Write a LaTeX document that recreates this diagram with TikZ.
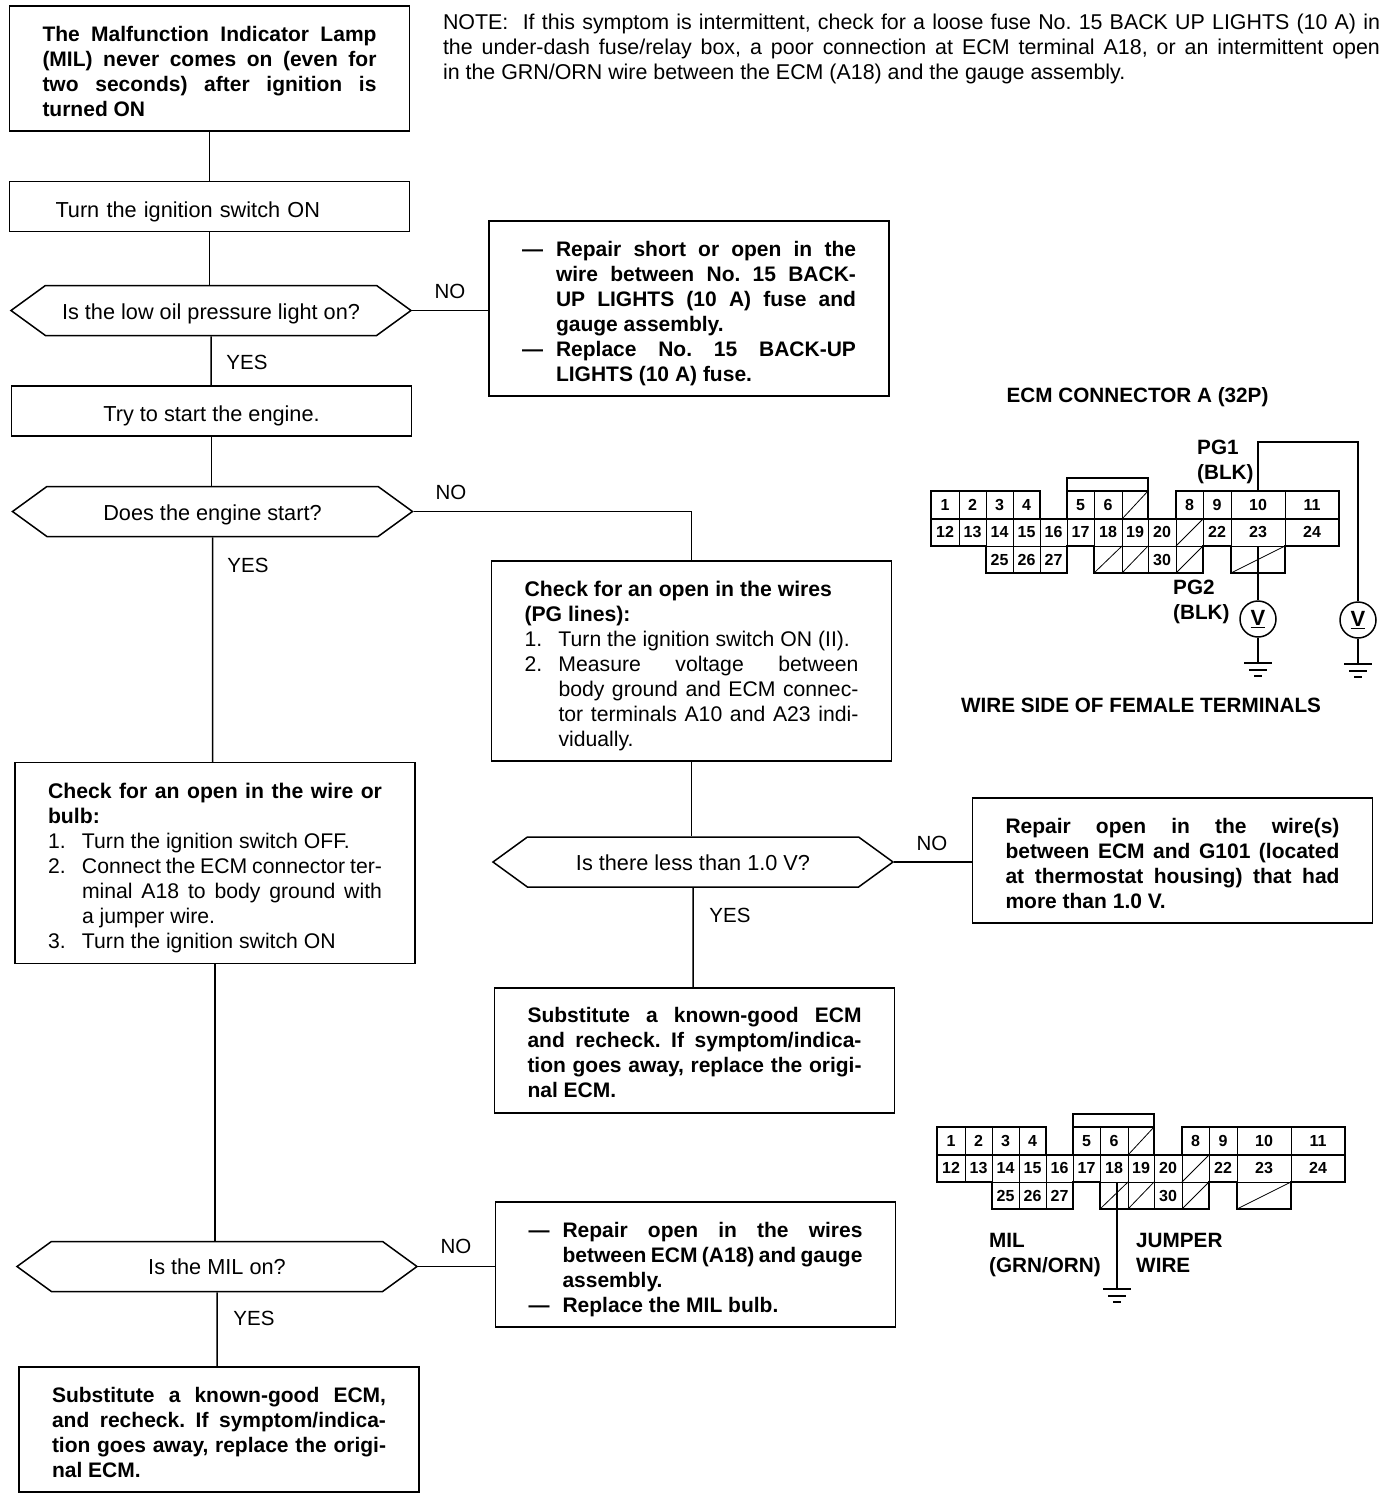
\documentclass[tikz,border=0pt]{standalone}
\usepackage{fontspec}
\setmainfont{Liberation Sans}
\usetikzlibrary{shapes.symbols}
\setlength{\parindent}{0pt}
\sloppy
\frenchspacing
\newcommand{\flowfont}{\fontsize{21.7}{25.1}\selectfont}
\newcommand{\bodyfont}{\fontsize{21.2}{25.1}\selectfont}
\newcommand{\heavyfont}{\fontsize{21}{25.1}\selectfont\bfseries}
\newcommand{\hitem}[2]{\par\hangindent=34pt\hangafter=1\noindent\hbox to 34pt{#1\hfill}#2\par}
\tikzset{
    wire/.style={line width=1.5pt},
    textdown/.style={execute at begin node={\vadjust pre{\vskip #1pt}}},
    flowbox/.style={draw, wire, rectangle, font=\bodyfont, align=justify,
        text width=334pt, inner xsep=33pt, inner ysep=0pt},
    boldbox/.style={flowbox, font=\heavyfont},
    stepbox/.style={draw, wire, rectangle, font=\flowfont, minimum width=400pt,
        minimum height=50pt, inner xsep=46pt, inner ysep=0pt, text height=20pt, text depth=0pt},
    hexbox/.style={draw, wire, signal, signal to=east and west, signal pointer angle=72,
        font=\flowfont, minimum width=400pt, minimum height=50pt, inner sep=0pt,
        text height=17pt, text depth=0pt},
    lbl/.style={font=\fontsize{20.5}{25}\selectfont, inner sep=0pt},
    pinlbl/.style={font=\fontsize{20.7}{25.1}\selectfont\bfseries, inner sep=0pt, align=left},
    cellline/.style={line width=0.8pt},
    celltext/.style={font=\fontsize{16}{16}\selectfont\bfseries, inner sep=0pt},
    outline/.style={line width=2pt},
    meter/.style={draw, wire, circle, minimum size=36pt, inner sep=0pt, font=\fontsize{22}{22}\selectfont\bfseries},
    earth/.pic={
        \draw[wire] (-14,0) -- (14,0);
        \draw[wire] (-9,7) -- (9,7);
        \draw[wire] (-4,13) -- (4,13);
    },
    ecmconn/.pic={
        % numbered cells, row by row
        \foreach \xa/\xb/\lbl in {931/959/1,959/986/2,986/1013/3,1013/1040/4,1067/1094/5,1094/1122/6,1176/1203/8,1203/1231/9,1231/1285/10,1285/1339/11} {
            \draw[cellline] (\xa,491) rectangle (\xb,519);
            \node[celltext] (cell\lbl) at ({(\xa+\xb)/2},505) {\lbl};
        }
        \foreach \xa/\xb/\lbl in {931/959/12,959/986/13,986/1013/14,1013/1040/15,1040/1067/16,1067/1094/17,1094/1122/18,1122/1148/19,1148/1176/20,1203/1231/22,1231/1285/23,1285/1339/24} {
            \draw[cellline] (\xa,519) rectangle (\xb,546);
            \node[celltext] (cell\lbl) at ({(\xa+\xb)/2},532) {\lbl};
        }
        \foreach \xa/\xb/\lbl in {986/1013/25,1013/1040/26,1040/1067/27,1148/1176/30} {
            \draw[cellline] (\xa,546) rectangle (\xb,573);
            \node[celltext] (cell\lbl) at ({(\xa+\xb)/2},560) {\lbl};
        }
        % unused cells
        \foreach \xa/\xb/\ya/\yb in {1122/1148/491/519,1176/1203/519/546,1094/1122/546/573,1122/1148/546/573,1176/1203/546/573,1231/1285/546/573} {
            \draw[cellline] (\xa,\ya) rectangle (\xb,\yb);
            \draw[cellline] (\xa,\yb) -- (\xb,\ya);
        }
        \draw[outline] (931,491) -- (1040,491) -- (1040,519) -- (1067,519) -- (1067,478) -- (1148,478)
            -- (1148,519) -- (1176,519) -- (1176,491) -- (1339,491) -- (1339,546) -- (1285,546)
            -- (1285,573) -- (1231,573) -- (1231,546) -- (1203,546) -- (1203,573) -- (1094,573)
            -- (1094,546) -- (1067,546) -- (1067,573) -- (986,573) -- (986,546) -- (931,546) -- cycle;
        \draw[outline] (1067,491) -- (1148,491);
        \draw[wire] (931,519) -- (1339,519);
        \coordinate (pin10) at (1258,491);
        \coordinate (pin18) at (1111,546);
        \coordinate (pin23) at (1258,546);
    }
}
\begin{document}
\begin{tikzpicture}[x=1pt, y=-1pt]
    \useasboundingbox (0,0) rectangle (1392,1500);

    % Left column
    \node[boldbox, textdown=6, minimum height=125pt] (lamp) at (209.5,68.5) {The Malfunction Indicator Lamp\linebreak
        (MIL) never comes on (even for\linebreak two seconds) after ignition is\linebreak turned ON};
    \node[stepbox, text width=308pt, align=left, text height=21pt] (ignition) at (209.5,206.5) {Turn the ignition switch ON};
    \node[hexbox] (oilq) at (211,310.5) {Is the low oil pressure light on?};
    \node[stepbox] (start) at (211.5,411) {Try to start the engine.};
    \node[hexbox] (startq) at (212.5,511.5) {Does the engine start?};
    \node[flowbox, textdown=10, minimum height=201pt] (bulb) at (215,863) {\textbf{Check for an open in the wire or\linebreak bulb:}
        \hitem{1.}{Turn the ignition switch OFF.}
        \hitem{2.}{Connect the ECM connector ter-\linebreak minal A18 to body ground with\linebreak a jumper wire.}
        \hitem{3.}{Turn the ignition switch ON}};
    \node[hexbox, text height=15pt] (milq) at (217,1266.5) {Is the MIL on?};
    \node[boldbox, textdown=6, minimum height=125pt] (swap2) at (219,1429.5) {Substitute a known-good ECM,\linebreak
        and recheck. If symptom/indica-\linebreak tion goes away, replace the origi-\linebreak nal ECM.};

    % Right column
    \node[font=\fontsize{21.4}{25.1}\selectfont, text width=937pt, align=justify, inner sep=0pt] (note) at (911.5,49)
        {NOTE:\ \ If this symptom is intermittent, check for a loose fuse No. 15 BACK UP LIGHTS (10 A) in\linebreak
        the under-dash fuse/relay box, a poor connection at ECM terminal A18, or an intermittent open\linebreak
        in the GRN/ORN wire between the ECM (A18) and the gauge assembly.};
    \node[boldbox, minimum height=175pt] (repair1) at (689,308.5) {%
        \hitem{---}{Repair short or open in the\linebreak wire between No. 15 BACK-\linebreak UP LIGHTS (10 A) fuse and\linebreak gauge assembly.}
        \hitem{---}{Replace No. 15 BACK-UP\linebreak LIGHTS (10 A) fuse.}};
    \node[flowbox, textdown=10, minimum height=200pt] (pgcheck) at (691.5,661) {{\bfseries Check for an open in the wires\par (PG lines):\par}
        \hitem{1.}{Turn the ignition switch ON (II).}
        \hitem{2.}{Measure voltage between\linebreak body ground and ECM connec-\linebreak tor terminals A10 and A23 indi-\linebreak vidually.}};
    \node[hexbox] (voltq) at (693,862) {Is there less than 1.0 V?};
    \node[boldbox, textdown=6, minimum height=125pt] (repair2) at (1172.5,860.5) {Repair open in the wire(s)\linebreak
        between ECM and G101 (located\linebreak at thermostat housing) that had\linebreak more than 1.0 V.};
    \node[boldbox, textdown=4, minimum height=125pt] (swap1) at (694.5,1050.5) {Substitute a known-good ECM\linebreak
        and recheck. If symptom/indica-\linebreak tion goes away, replace the origi-\linebreak nal ECM.};
    \node[boldbox, minimum height=125pt] (repair3) at (695.5,1264.5) {%
        \hitem{---}{Repair open in the wires\linebreak between ECM (A18) and gauge\linebreak assembly.}
        \hitem{---}{Replace the MIL bulb.}};

    % Flow lines
    \draw[wire] (lamp) -- (ignition);
    \draw[wire] (ignition) -- (ignition |- oilq.north);
    \draw[wire] (oilq) -- (oilq |- start.north);
    \draw[wire] (start) -- (start |- startq.north);
    \draw[wire] (startq) -- (startq |- bulb.north);
    \draw[wire] (bulb) -- (bulb |- milq.north);
    \draw[wire] (milq) -- (milq |- swap2.north);
    \draw[wire] (oilq.east) -- (oilq.east -| repair1.west);
    \draw[wire] (startq.east) -| (pgcheck.north);
    \draw[wire] (pgcheck) -- (pgcheck |- voltq.north);
    \draw[wire] (voltq) -- (voltq |- swap1.north);
    \draw[wire] (voltq.east) -- (voltq.east -| repair2.west);
    \draw[wire] (milq.east) -- (milq.east -| repair3.west);

    \node[lbl] (no1) at (450,291) {NO};
    \node[lbl] (yes1) at (247,362) {YES};
    \node[lbl] (no2) at (451,492) {NO};
    \node[lbl] (yes2) at (248,565) {YES};
    \node[lbl] (no3) at (932,843) {NO};
    \node[lbl] (yes3) at (730,915) {YES};
    \node[lbl] (no4) at (456,1246) {NO};
    \node[lbl] (yes4) at (254,1318) {YES};

    % Upper connector
    \pic (ca-) at (0,0) {ecmconn};
    \node[pinlbl] (catitle) at (1137.5,397) {ECM CONNECTOR A (32P)};
    \node[pinlbl, anchor=west] (pg1) at (1197,462) {PG1\\(BLK)};
    \node[pinlbl, anchor=west] (pg2) at (1173,602) {PG2\\(BLK)};
    \node[meter] (volt2) at (1258,619) {\underline{V}};
    \node[meter] (volt1) at (1358,620) {\underline{V}};
    \coordinate (gnd2) at (1258,663);
    \coordinate (gnd1) at (1358,664);
    \coordinate (loop) at (1258,442);
    \draw[wire] (ca-pin23) -- (volt2);
    \draw[wire] (ca-pin10) -- (loop) -| (volt1);
    \draw[wire] (volt2) -- (gnd2);
    \draw[wire] (volt1) -- (gnd1);
    \pic at (gnd2) {earth};
    \pic at (gnd1) {earth};
    \node[pinlbl] (wireside) at (1141,705) {WIRE SIDE OF FEMALE TERMINALS};

    % Lower connector
    \pic (cb-) at (6,636) {ecmconn};
    \node[pinlbl, anchor=west] (mil) at (989,1255) {MIL\\(GRN/ORN)};
    \node[pinlbl, anchor=west] (jumper) at (1136,1252.5) {JUMPER\\WIRE};
    \coordinate (gnd3) at (1117,1289);
    \draw[wire] (cb-pin18) -- (gnd3);
    \pic at (gnd3) {earth};
\end{tikzpicture}
\end{document}
